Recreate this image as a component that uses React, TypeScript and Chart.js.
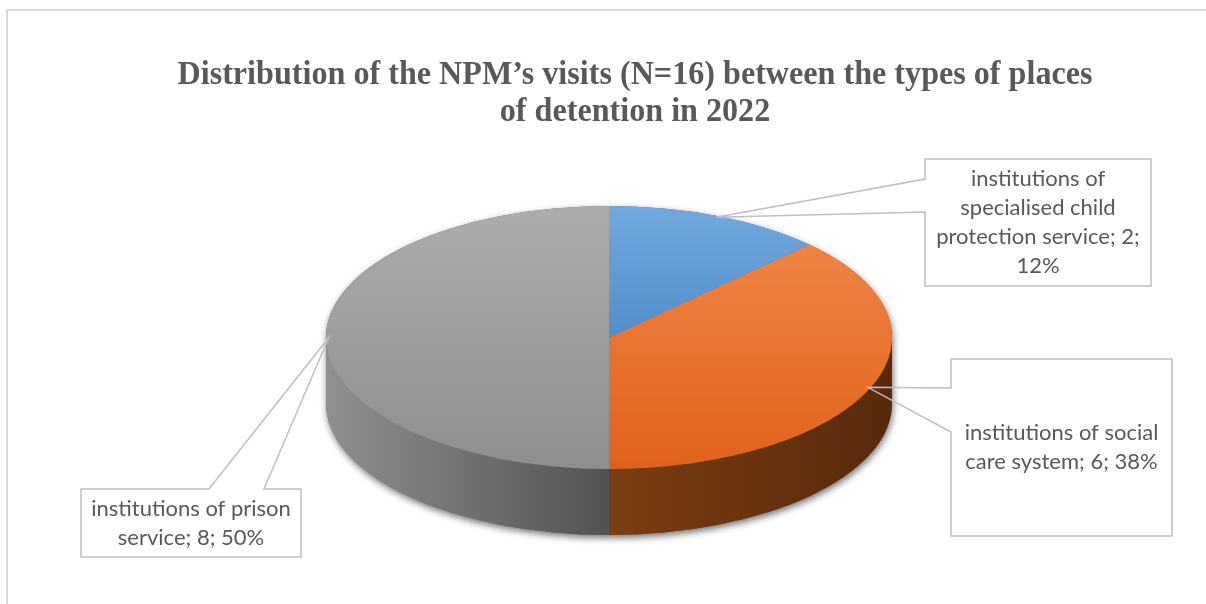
import React, { useEffect, useRef } from 'react';
import { Chart, registerables } from 'chart.js';

Chart.register(...registerables);

// ---------- data ----------
const categories = [
  'institutions of specialised child protection service',
  'institutions of social care system',
  'institutions of prison service',
];
const visits = [2, 6, 8];
const percentLabels = ['12%', '38%', '50%'];
const titleLines = [
  'Distribution of the NPM\u2019s visits (N=16) between the types of places',
  'of detention in 2022',
];

// ---------- styles ----------
const topColors = [
  ['#72a9df', '#2e72b6'],
  ['#f0894c', '#e1621a'],
  ['#adadad', '#8e8e8e'],
];
const sideColors = [
  ['#2d5f91', '#1f4670'],
  ['#7c3d12', '#57290b'],
  ['#909090', '#525252'],
];

const RADIUS = 283;
const TILT = 131.5 / 283;
const DEPTH = 66;

const callouts = [
  { box: [925, 159, 1151, 286], side: 'left', base: [179, 212] },
  { box: [951, 359, 1172, 536], side: 'left', base: [388, 432] },
  { box: [81, 489, 301, 557], side: 'top', base: [209, 264] },
];

function wrap(ctx: CanvasRenderingContext2D, text: string, maxW: number): string[] {
  const words = text.split(' ');
  const lines: string[] = [];
  let cur = '';
  for (const w of words) {
    const t = cur ? cur + ' ' + w : w;
    if (cur && ctx.measureText(t).width > maxW) {
      lines.push(cur);
      cur = w;
    } else cur = t;
  }
  if (cur) lines.push(cur);
  return lines;
}

const pie3d = {
  id: 'pie3d',
  beforeDatasetsDraw(chart: any) {
    const arcs = chart.getDatasetMeta(0).data as any[];
    if (!arcs.length) return;
    const { x: cx, y: cy, outerRadius: r } = arcs[0];
    const ry = r * TILT;
    const ctx: CanvasRenderingContext2D = chart.ctx;

    // shadow silhouette
    ctx.save();
    ctx.shadowColor = 'rgba(0,0,0,0.55)';
    ctx.shadowBlur = 7;
    ctx.shadowOffsetX = 1;
    ctx.shadowOffsetY = 3;
    ctx.beginPath();
    ctx.ellipse(cx, cy + DEPTH, r, ry, 0, 0, Math.PI);
    ctx.lineTo(cx - r, cy);
    ctx.ellipse(cx, cy, r, ry, 0, Math.PI, 2 * Math.PI);
    ctx.closePath();
    ctx.fillStyle = '#666';
    ctx.fill();
    ctx.restore();

    // front walls
    arcs.forEach((arc: any, i: number) => {
      const a = Math.max(arc.startAngle, 0);
      const b = Math.min(arc.endAngle, Math.PI);
      if (b <= a) return;
      const xl = cx + r * Math.cos(b);
      const xr = cx + r * Math.cos(a);
      const g = ctx.createLinearGradient(xl, 0, xr, 0);
      g.addColorStop(0, sideColors[i][0]);
      g.addColorStop(1, sideColors[i][1]);
      ctx.beginPath();
      ctx.ellipse(cx, cy, r, ry, 0, a, b);
      ctx.ellipse(cx, cy + DEPTH, r, ry, 0, b, a, true);
      ctx.closePath();
      ctx.fillStyle = g;
      ctx.fill();
    });

    // squash the top face
    ctx.save();
    ctx.translate(cx, cy);
    ctx.scale(1, TILT);
    ctx.translate(-cx, -cy);
  },
  afterDatasetsDraw(chart: any) {
    if (chart.getDatasetMeta(0).data.length) chart.ctx.restore();
  },
  afterDraw(chart: any) {
    const ctx: CanvasRenderingContext2D = chart.ctx;
    const arcs = chart.getDatasetMeta(0).data as any[];

    // frame
    ctx.save();
    ctx.strokeStyle = '#d9d9d9';
    ctx.lineWidth = 2;
    ctx.strokeRect(7, 10, 1400, 800);
    ctx.restore();

    // title
    ctx.save();
    ctx.font = 'bold 33px "Liberation Serif", "Times New Roman", serif';
    ctx.fillStyle = '#595959';
    ctx.textAlign = 'center';
    ctx.textBaseline = 'alphabetic';
    const sx = 915 / ctx.measureText(titleLines[0]).width;
    titleLines.forEach((t, i) => {
      ctx.save();
      ctx.translate(635, 84 + i * 37);
      ctx.scale(sx, 1);
      ctx.fillText(t, 0, 0);
      ctx.restore();
    });
    ctx.restore();

    // callouts
    if (!arcs.length) return;
    const { x: cx, y: cy, outerRadius: r } = arcs[0];
    const ry = r * TILT;
    ctx.save();
    ctx.font = '22px Lato, "Noto Sans", sans-serif';
    ctx.fillStyle = '#595959';
    ctx.strokeStyle = '#bfbfbf';
    ctx.lineWidth = 1.5;
    ctx.textAlign = 'center';
    ctx.textBaseline = 'middle';
    arcs.forEach((arc: any, i: number) => {
      const co = callouts[i];
      const mid = (arc.startAngle + arc.endAngle) / 2;
      const tx = cx + r * 0.99 * Math.cos(mid);
      const ty = cy + ry * 0.99 * Math.sin(mid);
      const [x0, y0, x1, y1] = co.box;
      ctx.beginPath();
      ctx.moveTo(x0, y0);
      if (co.side === 'top') {
        ctx.lineTo(co.base[0], y0);
        ctx.lineTo(tx, ty);
        ctx.lineTo(co.base[1], y0);
      }
      ctx.lineTo(x1, y0);
      ctx.lineTo(x1, y1);
      ctx.lineTo(x0, y1);
      if (co.side === 'left') {
        ctx.lineTo(x0, co.base[1]);
        ctx.lineTo(tx, ty);
        ctx.lineTo(x0, co.base[0]);
      }
      ctx.closePath();
      ctx.stroke();
      const text = `${categories[i]}; ${visits[i]}; ${percentLabels[i]}`;
      const lines = wrap(ctx, text, x1 - x0 - 12);
      const lh = 29;
      const mcy = (y0 + y1) / 2;
      lines.forEach((l, j) => {
        ctx.fillText(l, (x0 + x1) / 2, mcy + (j - (lines.length - 1) / 2) * lh);
      });
    });
    ctx.restore();
  },
};

export default function App() {
  const ref = useRef<HTMLCanvasElement>(null);
  useEffect(() => {
    const chart = new Chart(ref.current!, {
      type: 'pie',
      data: {
        labels: categories,
        datasets: [
          {
            data: visits,
            radius: RADIUS,
            clip: false,
            borderWidth: 0,
            backgroundColor: (c: any) => {
              const i = c.dataIndex ?? 0;
              const area = c.chart.chartArea;
              if (!area) return topColors[i][0];
              const ccy = (area.top + area.bottom) / 2;
              const g = c.chart.ctx.createLinearGradient(0, ccy - RADIUS, 0, ccy + RADIUS);
              g.addColorStop(0, topColors[i][0]);
              g.addColorStop(1, topColors[i][1]);
              return g;
            },
          } as any,
        ],
      },
      options: {
        responsive: false,
        animation: false,
        events: [],
        layout: { padding: { left: 326, right: 314, top: 300, bottom: 229 } },
        plugins: {
          legend: { display: false },
          tooltip: { enabled: false },
          title: { display: false },
        },
      },
      plugins: [pie3d],
    });
    return () => chart.destroy();
  }, []);
  return (
    <div style={{ position: 'fixed', left: 0, top: 0, width: 1206, height: 604, background: '#fff' }}>
      <canvas ref={ref} width={1206} height={604} style={{ display: 'block' }} />
    </div>
  );
}
